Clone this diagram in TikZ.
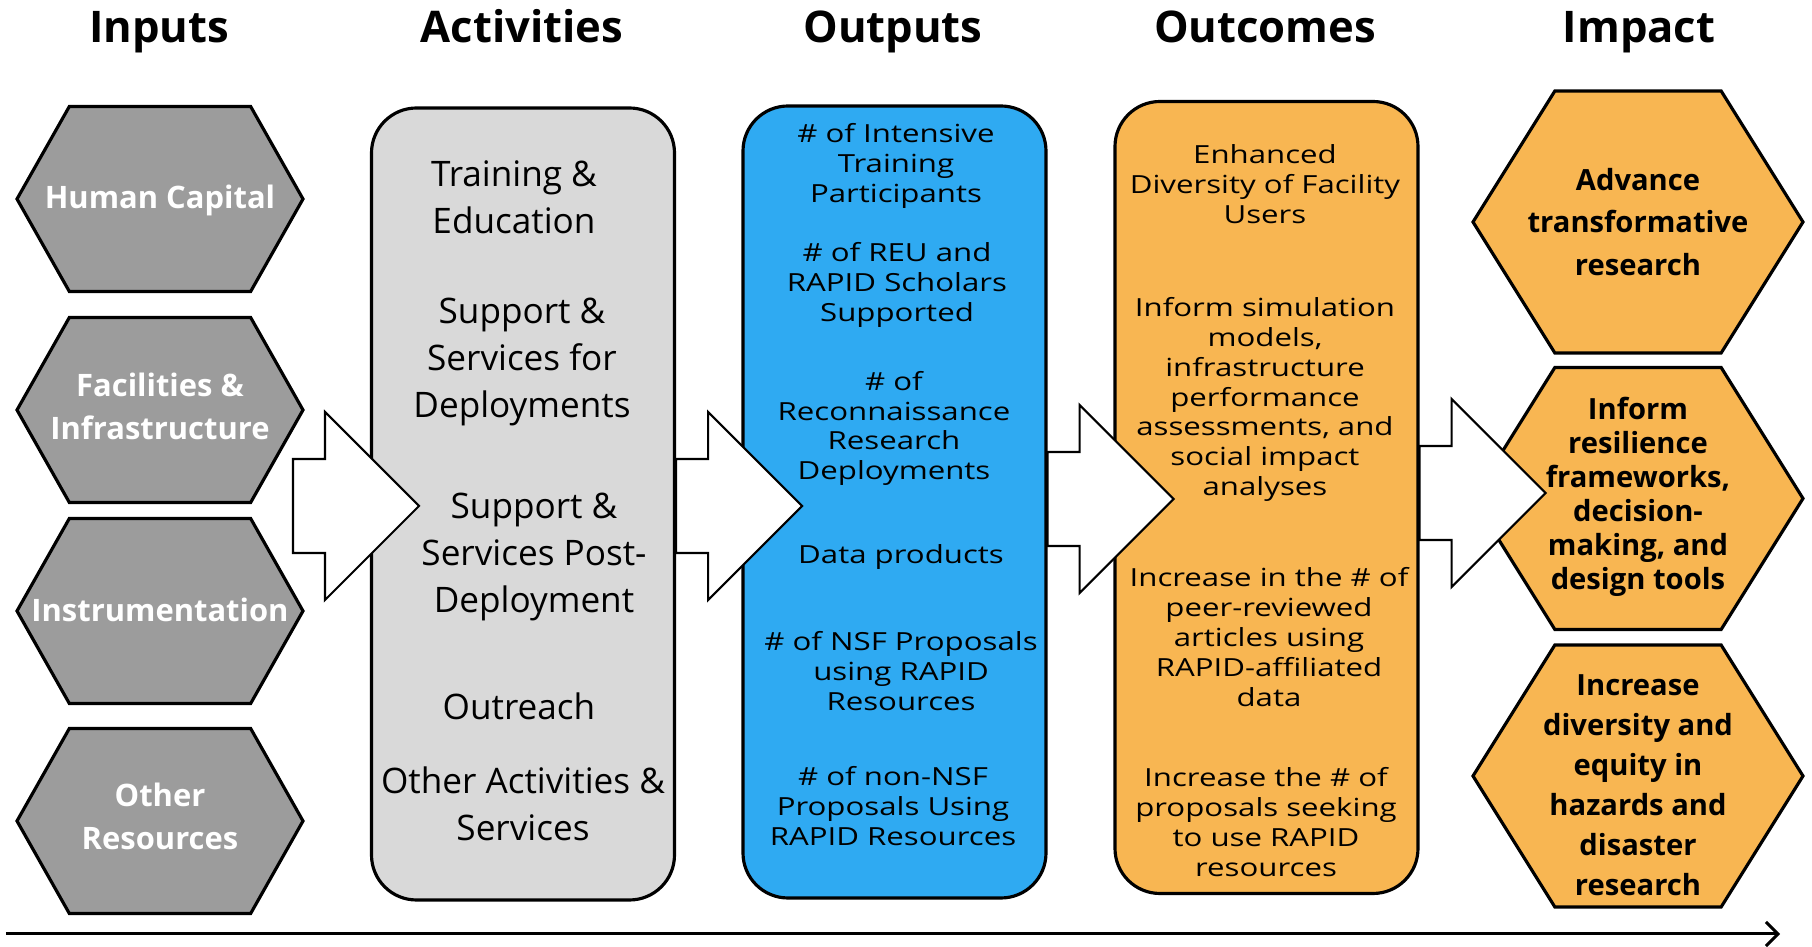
\documentclass[tikz,border=0pt]{standalone}
\usepackage{fontspec}
\setmainfont{Open Sans}
\newfontfamily\widefont{Open Sans}[FakeStretch=1.25]
\usetikzlibrary{arrows.meta,shapes.symbols}

\definecolor{hexgray}{HTML}{9C9C9C}
\definecolor{actgray}{HTML}{D9D9D9}
\definecolor{outblue}{HTML}{2FAAF2}
\definecolor{ocorange}{HTML}{F8B652}

\tikzset{
  title/.style={anchor=base, font=\bfseries\fontsize{12.4}{15}\selectfont},
  inhex/.style={signal, signal to=east and west, signal pointer angle=121,
    draw, line width=0.9pt, fill=hexgray, inner sep=0pt,
    minimum width=2.86cm, minimum height=1.85cm},
  intext/.style={text=white, align=center, font=\bfseries\fontsize{8.8}{12.2}\selectfont},
  imhex/.style={signal, signal to=east and west, signal pointer angle=116,
    draw, line width=0.9pt, fill=ocorange, inner sep=0pt,
    minimum width=3.30cm, minimum height=2.62cm},
  imtext/.style={align=center, font=\bfseries\fontsize{8.3}{#1}\selectfont},
  column/.style={draw, line width=0.9pt, rounded corners=4.5mm,
    minimum width=3.03cm, minimum height=7.92cm},
  actitem/.style={align=center, font=\fontsize{10}{13.4}\selectfont},
  outitem/.style={align=center, font=\widefont\fontsize{7.1}{8.5}\selectfont},
  blockarrow/.style={draw, line width=0.6pt, fill=white, line join=miter},
  timeline/.style={line width=0.85pt, -{Straight Barb[length=1.2mm,width=2.4mm]}}
}

% white block arrow, starting at the middle of its tail
\newcommand{\blockarrow}[1]{%
  \draw[blockarrow] (#1) ++(0,0.47) -- ++(0.32,0) -- ++(0,0.47) -- ++(0.94,-0.94)
    -- ++(-0.94,-0.94) -- ++(0,0.47) -- ++(-0.32,0) -- cycle;}

\begin{document}
\begin{tikzpicture}
  \useasboundingbox (0,0) rectangle (18.12,9.47);

  % titles
  \node[title] (tin) at (1.59,9.04) {Inputs};
  \node[title] (tact) at (5.22,9.04) {Activities};
  \node[title] (tout) at (8.93,9.04) {Outputs};
  \node[title] (toc) at (12.65,9.04) {Outcomes};
  \node[title] (tim) at (16.39,9.04) {Impact};

  % inputs
  \node[inhex] (hum) at (1.60,7.48) {};
  \node[inhex] (fac) at (1.60,5.37) {};
  \node[inhex] (ins) at (1.60,3.36) {};
  \node[inhex] (oth) at (1.60,1.26) {};
  \node[intext] (humt) at (1.60,7.47) {Human Capital};
  \node[intext] (fact) at (1.60,5.41) {Facilities \&\\Infrastructure};
  \node[intext] (inst) at (1.60,3.37) {Instrumentation};
  \node[intext] (otht) at (1.60,1.305) {Other\\Resources};

  % columns
  \node[column, fill=actgray] (act) at (5.23,4.43) {};
  \node[column, fill=outblue] (out) at (8.945,4.45) {};
  \node[column, fill=ocorange] (oc) at (12.665,4.495) {};

  \node[actitem] (act1) at (5.14,7.495) {Training \&\\Education};
  \node[actitem] (act2) at (5.22,5.85) {Support \&\\Services for\\Deployments};
  \node[actitem] (act3) at (5.34,3.90) {Support \&\\Services Post-\\Deployment};
  \node[actitem] (act4) at (5.19,2.41) {Outreach};
  \node[actitem] (act5) at (5.23,1.435) {Other Activities \&\\Services};

  \node[outitem] (out1) at (8.96,7.81) {\# of Intensive\\Training\\Participants};
  \node[outitem] (out2) at (8.97,6.62) {\# of REU and\\RAPID Scholars\\Supported};
  \node[outitem] (out3) at (8.94,5.185) {\# of\\Reconnaissance\\Research\\Deployments};
  \node[outitem] (out4) at (9.01,3.90) {Data products};
  \node[outitem] (out5) at (9.01,2.76) {\# of NSF Proposals\\using RAPID\\Resources};
  \node[outitem] (out6) at (8.93,1.41) {\# of non-NSF\\Proposals Using\\RAPID Resources};

  \node[outitem] (oc1) at (12.65,7.63) {Enhanced\\Diversity of Facility\\Users};
  \node[outitem] (oc2) at (12.65,5.475) {Inform simulation\\models,\\infrastructure\\performance\\assessments, and\\social impact\\analyses};
  \node[outitem] (oc3) at (12.69,3.10) {Increase in the \# of\\peer-reviewed\\articles using\\RAPID-affiliated\\data};
  \node[outitem] (oc4) at (12.66,1.25) {Increase the \# of\\proposals seeking\\to use RAPID\\resources};

  % impact
  \node[imhex] (adv) at (16.38,7.25) {};
  \node[imhex] (inf) at (16.38,4.485) {};
  \node[imhex] (inc) at (16.38,1.71) {};
  \node[imtext=12.1] (advt) at (16.38,7.25) {Advance\\transformative\\research};
  \node[imtext=9.7] (inft) at (16.38,4.50) {Inform\\resilience\\frameworks,\\decision-\\making, and\\design tools};
  \node[imtext=11.4] (inct) at (16.38,1.615) {Increase\\diversity and\\equity in\\hazards and\\disaster\\research};

  % arrows between the columns
  \coordinate (ar1) at (2.93,4.41);
  \blockarrow{ar1}
  \blockarrow{act.east |- 0,4.41}
  \blockarrow{out.east |- 0,4.48}
  \blockarrow{oc.east |- 0,4.54}

  % time axis
  \coordinate (t0) at (0.06,0.13);
  \coordinate (t1) at (17.80,0.13);
  \draw[timeline] (t0) -- (t1);
\end{tikzpicture}
\end{document}
